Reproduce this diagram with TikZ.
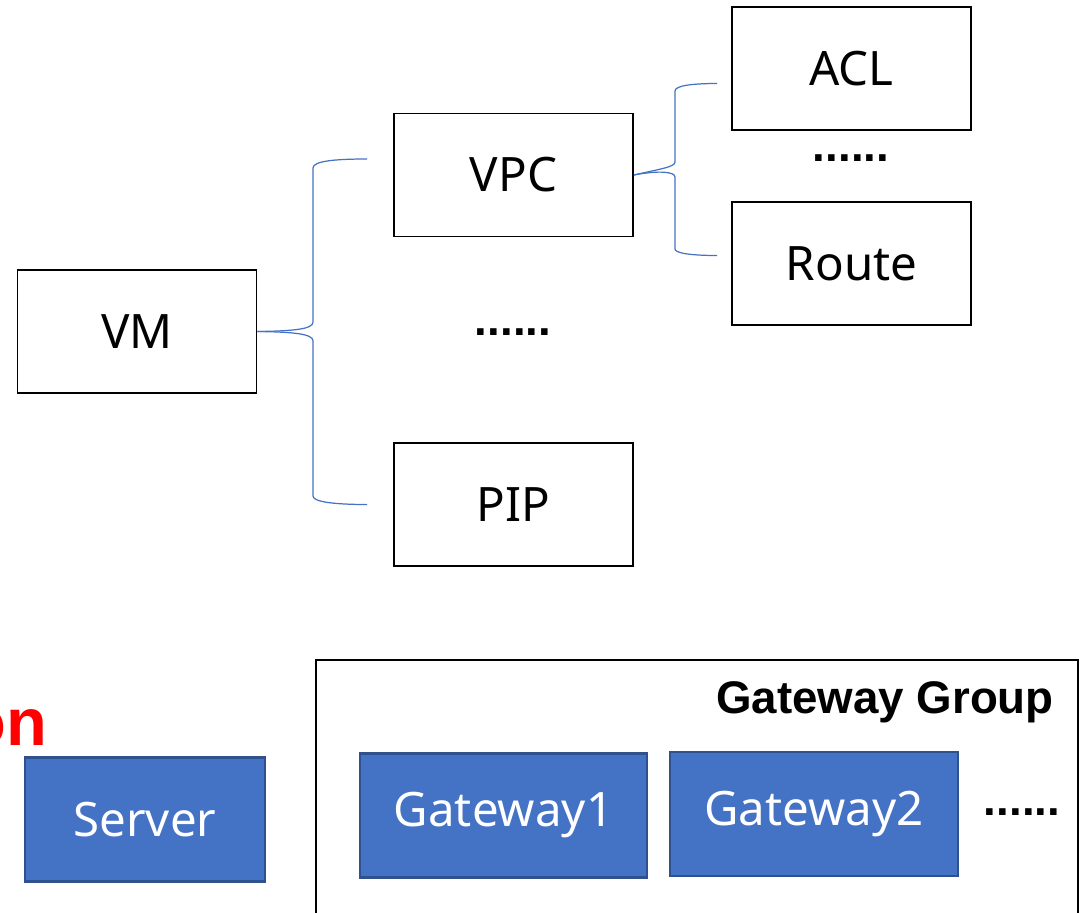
\documentclass[tikz,border=0pt]{standalone}
\usepackage{fontspec}
\setmainfont{Noto Sans}
\newfontfamily\heavyfont{Liberation Sans}
\definecolor{boxblue}{HTML}{4472C4}
\definecolor{boxedge}{HTML}{2F528F}

\begin{document}
\begin{tikzpicture}[x=0.02cm, y=-0.02cm,
    item/.style  = {rectangle, draw, line width=1pt, inner sep=0, minimum width=4.78cm, minimum height=2.46cm, font=\fontsize{27}{32}\selectfont},
    gw/.style    = {rectangle, draw=boxedge, fill=boxblue, text=white, line width=1.3pt, inner sep=0, minimum height=2.48cm, font=\fontsize{27}{32}\selectfont},
    brace/.style = {draw=boxblue, line width=0.7pt},
    more/.style  = {font=\heavyfont\bfseries\fontsize{26}{30}\selectfont}]
  \useasboundingbox (0,0) rectangle (1089,913);
  \clip (0,0) rectangle (1089,913);

  \node[item] (VM)    at (137,331.5)   {VM};
  \node[item] (VPC)   at (513.5,175)   {VPC};
  \node[item] (PIP)   at (513.5,504.5) {PIP};
  \node[item] (ACL)   at (851.5,68.5)  {ACL};
  \node[item] (Route) at (851.5,263.5) {Route};

  \node[more] (dots1) at (513,332) {......};
  \node[more] (dots2) at (851,158) {......};

  % brace ends
  \coordinate (vpcin)   at (367,159);
  \coordinate (pipin)   at (367,504.5);
  \coordinate (aclin)   at (717,83.5);
  \coordinate (routein) at (717,255.5);

  \draw[brace] (VM.east) .. controls (295,331) and (313,329) .. (313,322) -- (313,168)
               .. controls (313,161) and (335,159) .. (vpcin);
  \draw[brace] (VM.east) .. controls (295,332) and (313,334) .. (313,341) -- (313,496)
               .. controls (313,502) and (335,504.5) .. (pipin);
  \draw[brace] (VPC.east) .. controls (660,169) and (675,167) .. (675,162) -- (675,91)
               .. controls (675,86) and (690,83.5) .. (aclin);
  \draw[brace] (VPC.east) .. controls (660,170) and (675,172) .. (675,177) -- (675,249)
               .. controls (675,253) and (690,255.5) .. (routein);

  % bottom part
  \node[anchor=base east, text=red, font=\heavyfont\bfseries\fontsize{38}{40}\selectfont] (lbl) at (53,745) {on};
  \node[gw, minimum width=4.8cm] (Server) at (145,819.5) {Server};

  \draw[line width=1pt] (316,970) |- (1078,660) -- (1078,970);
  \node[anchor=base east, font=\heavyfont\bfseries\fontsize{26}{30}\selectfont] (grp) at (1060,713) {Gateway Group};
  \node[gw, minimum width=5.74cm] (G1) at (503.5,815.5) {Gateway1};
  \node[gw, minimum width=5.76cm] (G2) at (814,814)     {Gateway2};
  \node[more] (dots3) at (1022,812) {......};
\end{tikzpicture}
\end{document}
